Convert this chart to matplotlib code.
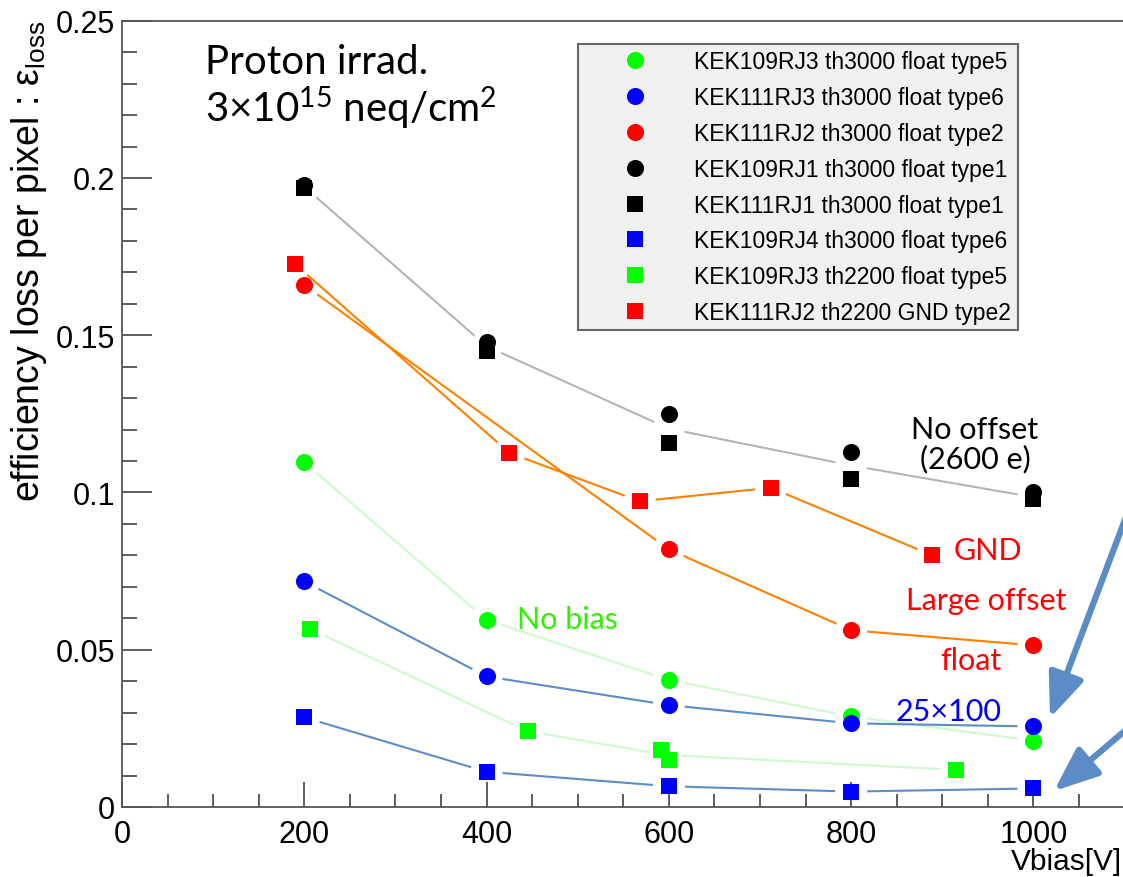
import numpy as np
import matplotlib
matplotlib.use("Agg")
import matplotlib.pyplot as plt
from matplotlib.ticker import FixedLocator, FuncFormatter

plt.rcParams['font.family'] = ['Liberation Sans', 'DejaVu Sans']
plt.rcParams['mathtext.fontset'] = 'custom'
plt.rcParams['mathtext.rm'] = 'Lato'
plt.rcParams['mathtext.sf'] = 'Liberation Sans'
plt.rcParams['mathtext.default'] = 'rm'

# ---------------- data ----------------
# markers
green_circ_x = [200, 400, 600, 800, 1000]
green_circ_y = [0.1096, 0.0595, 0.0404, 0.0288, 0.0211]
blue_circ_x = [200, 400, 600, 800, 1000]
blue_circ_y = [0.0717, 0.0415, 0.0324, 0.0266, 0.0256]
red_circ_x = [200, 600, 800, 1000]
red_circ_y = [0.1660, 0.0819, 0.0562, 0.0514]
black_circ_x = [200, 400, 600, 800, 1000]
black_circ_y = [0.1978, 0.1480, 0.1250, 0.1128, 0.1003]
black_sq_x = [200, 400, 600, 800, 1000]
black_sq_y = [0.1967, 0.1451, 0.1156, 0.1044, 0.0980]
blue_sq_x = [200, 400, 600, 800, 1000]
blue_sq_y = [0.0285, 0.0112, 0.0066, 0.0049, 0.0059]
green_sq_x = [206, 445, 591, 600, 915]
green_sq_y = [0.0567, 0.0241, 0.0181, 0.0149, 0.0118]
red_sq_x = [190, 425, 568, 712, 889]
red_sq_y = [0.1726, 0.1126, 0.0972, 0.1015, 0.0800]

# trend lines (drawn under the markers)
black_line_x = [200, 400, 600, 800, 1000]
black_line_y = [0.1972, 0.1465, 0.1203, 0.1086, 0.0985]
green_sq_line_x = [206, 445, 596, 915]
green_sq_line_y = [0.0567, 0.0241, 0.0166, 0.0118]

labels = ["KEK109RJ3 th3000 float type5",
          "KEK111RJ3 th3000 float type6",
          "KEK111RJ2 th3000 float type2",
          "KEK109RJ1 th3000 float type1",
          "KEK111RJ1 th3000 float type1",
          "KEK109RJ4 th3000 float type6",
          "KEK109RJ3 th2200 float type5",
          "KEK111RJ2 th2200 GND type2"]

x_ticks = [0, 200, 400, 600, 800, 1000]
y_ticks = [0, 0.05, 0.1, 0.15, 0.2, 0.25]

# ---------------- figure ----------------
W, H = 1123, 878
fig = plt.figure(figsize=(W / 100, H / 100), dpi=100)
ax = fig.add_axes([122 / W, 70 / H, (1124.6 - 122) / W, (808 - 21.7) / H])
ax.set_xlim(0, 1100)
ax.set_ylim(0, 0.25)

for s in ax.spines.values():
    s.set_color('#555555')
    s.set_linewidth(1.3)

ax.xaxis.set_major_locator(FixedLocator(x_ticks))
ax.xaxis.set_minor_locator(FixedLocator(np.arange(0, 1101, 50)))
ax.yaxis.set_major_locator(FixedLocator(y_ticks))
ax.yaxis.set_minor_locator(FixedLocator(np.arange(0, 0.2501, 0.01)))
fmt = FuncFormatter(lambda v, p: f"{v:g}")
ax.xaxis.set_major_formatter(fmt)
ax.yaxis.set_major_formatter(fmt)
ax.tick_params(axis='both', which='both', direction='in', color='#333333', width=1.1,
               top=False, right=False, labelsize=22)
ax.tick_params(axis='y', which='major', length=21.6, pad=5)
ax.tick_params(axis='y', which='minor', length=10.8)
ax.tick_params(axis='x', which='major', length=18.2, pad=8.5)
ax.tick_params(axis='x', which='minor', length=9.4)


def gap_line(xs, ys, color, gap=16, lw=1.5):
    pts = ax.transData.transform(np.column_stack([xs, ys]))
    inv = ax.transData.inverted()
    for p, q in zip(pts[:-1], pts[1:]):
        d = q - p
        u = d / np.hypot(*d)
        a = inv.transform(p + u * gap)
        b = inv.transform(q - u * gap)
        ax.plot([a[0], b[0]], [a[1], b[1]], color=color, lw=lw, zorder=2,
                solid_capstyle='butt')


c_gray = '#b4b4b4'
c_orange = '#ff8000'
c_lgreen = '#cdfacd'
c_steel = '#5b8ec6'

gap_line(black_line_x, black_line_y, c_gray)
gap_line(red_circ_x, red_circ_y, c_orange)
gap_line(red_sq_x, red_sq_y, c_orange)
gap_line(green_circ_x, green_circ_y, c_lgreen)
gap_line(green_sq_line_x, green_sq_line_y, c_lgreen)
gap_line(blue_circ_x, blue_circ_y, c_steel)
gap_line(blue_sq_x, blue_sq_y, c_steel)

ms_c, ms_s = 12.3, 11.6
series = [
    (green_circ_x, green_circ_y, 'o', '#00ff00', ms_c),
    (blue_circ_x, blue_circ_y, 'o', '#0000ff', ms_c),
    (red_circ_x, red_circ_y, 'o', '#ff0000', ms_c),
    (black_circ_x, black_circ_y, 'o', '#000000', ms_c),
    (black_sq_x, black_sq_y, 's', '#000000', ms_s),
    (blue_sq_x, blue_sq_y, 's', '#0000ff', ms_s),
    (green_sq_x, green_sq_y, 's', '#00ff00', ms_s),
    (red_sq_x, red_sq_y, 's', '#ff0000', ms_s),
]
handles = []
for (xs, ys, m, c, ms), lab in zip(series, labels):
    h, = ax.plot(xs, ys, ls='none', marker=m, ms=ms, color=c, mec=c, mew=0,
                 zorder=3, label=lab, clip_on=False)
    handles.append(h)

leg = ax.legend(handles, labels, loc='upper left',
                bbox_to_anchor=(578 / W, 1 - 316 / H, (1018 - 578) / W, (316 - 45) / H),
                bbox_transform=fig.transFigure, mode='expand', borderaxespad=0,
                borderpad=0.27, labelspacing=0.56, handlelength=4.42, handletextpad=0.38,
                numpoints=1, fancybox=False, framealpha=1, fontsize=16.5,
                facecolor='#f0f0f0', edgecolor='#666666')
leg.get_frame().set_linewidth(1.5)
leg.set_zorder(5)

# axis titles
fig.text(29 / W, 1 - 20 / H, r"efficiency loss per pixel : $\mathsf{ε}_{\mathsf{loss}}$",
         rotation=90, ha='center', va='top', fontsize=27)
fig.text(1122 / W, 1 - 870 / H, "Vbias[V]", ha='right', va='baseline', fontsize=21.5)

# annotations (slide text)
tf = dict(family=['Lato', 'DejaVu Sans'])
fig.text(205 / W, 1 - 122 / H, "Proton irrad.\n" + r"3×10$^{15}$ neq/cm$^{2}$",
         ha='left', va='baseline', fontsize=29, linespacing=1.1,
         multialignment='left', **tf)
fig.text(975 / W, 1 - 468 / H, "No offset\n(2600 e)", ha='center', va='baseline',
         fontsize=22, color='black', linespacing=1.0, **tf)
fig.text(954 / W, 1 - 560 / H, "GND", ha='left', va='baseline', fontsize=22, color='red', **tf)
fig.text(986 / W, 1 - 610 / H, "Large offset", ha='center', va='baseline', fontsize=22,
         color='red', **tf)
fig.text(971 / W, 1 - 670 / H, "float", ha='center', va='baseline', fontsize=22,
         color='red', **tf)
fig.text(517 / W, 1 - 629 / H, "No bias", ha='left', va='baseline', fontsize=22,
         color='#33ee00', **tf)
fig.text(949 / W, 1 - 721 / H, "25×100", ha='center', va='baseline', fontsize=22,
         color='blue', **tf)

# arrows from the slide
c_arrow = '#5b8cc6'
for tip, start in [((1050, H - 719), (1140, H - 481)), ((1054, H - 792), (1140, H - 719))]:
    fig.patches.append(matplotlib.patches.FancyArrowPatch(
        posA=start, posB=tip, transform=None,
        arrowstyle='-|>,head_length=27,head_width=11', mutation_scale=1,
        lw=4.5, color=c_arrow, shrinkA=0, shrinkB=0))

fig.savefig("out.png", dpi=100)
